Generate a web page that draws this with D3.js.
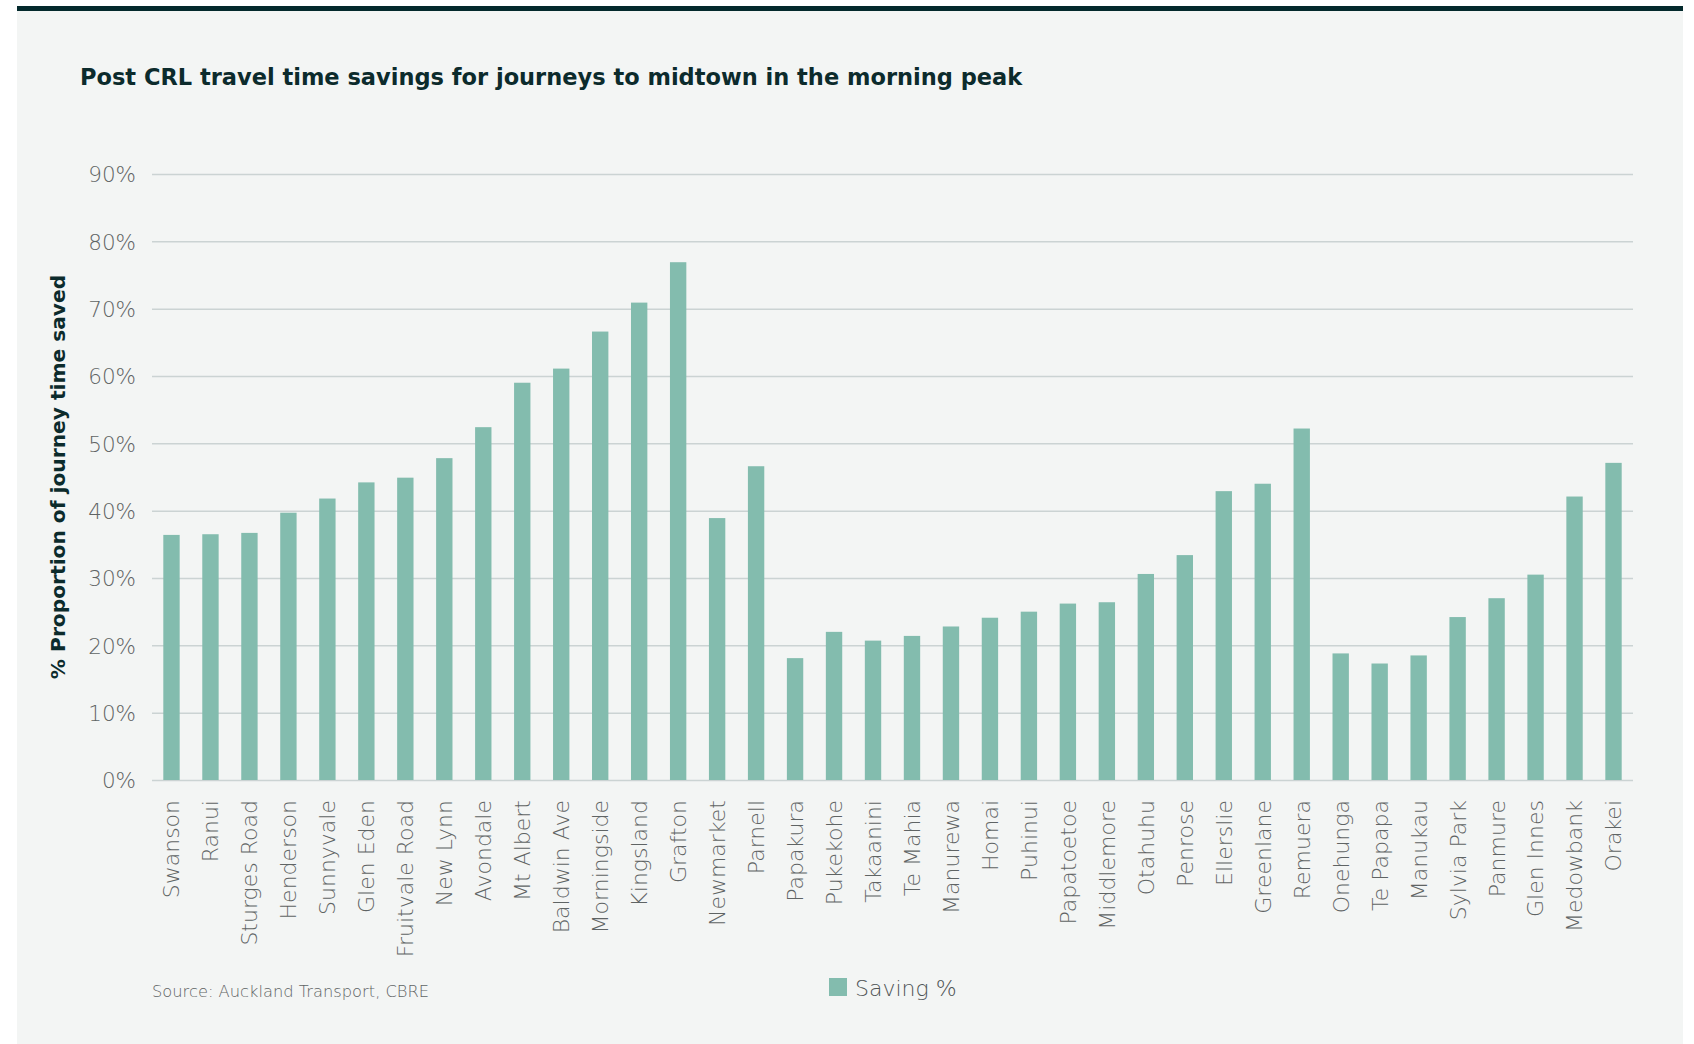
<!DOCTYPE html>
<meta charset="utf-8">
<style>
  body { margin: 0; background: #ffffff; }
  text { font-family: "DejaVu Sans", sans-serif; }
</style>

<!-- Load d3.js -->
<script src="https://d3js.org/d3.v7.min.js"></script>

<!-- Create a div where the graph will take place -->
<div id="my_dataviz"></div>

<script>

    // stations and the share of journey time saved (%)
    var stations = ["Swanson", "Ranui", "Sturges Road", "Henderson", "Sunnyvale", "Glen Eden",
      "Fruitvale Road", "New Lynn", "Avondale", "Mt Albert", "Baldwin Ave", "Morningside",
      "Kingsland", "Grafton", "Newmarket", "Parnell", "Papakura", "Pukekohe", "Takaanini",
      "Te Mahia", "Manurewa", "Homai", "Puhinui", "Papatoetoe", "Middlemore", "Otahuhu",
      "Penrose", "Ellerslie", "Greenlane", "Remuera", "Onehunga", "Te Papapa", "Manukau",
      "Sylvia Park", "Panmure", "Glen Innes", "Medowbank", "Orakei"]
    var savings = [36.4, 36.5, 36.7, 39.7, 41.8, 44.2,
      44.9, 47.8, 52.4, 59.0, 61.1, 66.6,
      70.9, 76.9, 38.9, 46.6, 18.1, 22.0, 20.7,
      21.4, 22.8, 24.1, 25.0, 26.2, 26.4, 30.6,
      33.4, 42.9, 44.0, 52.2, 18.8, 17.3, 18.5,
      24.2, 27.0, 30.5, 42.1, 47.1]
    var yTicks = [0, 10, 20, 30, 40, 50, 60, 70, 80, 90]

    var W = 1694, H = 1044
    var margin = {top: 174, right: 61, bottom: 264, left: 152},
      width = W - margin.left - margin.right,
      height = H - margin.top - margin.bottom;

    var svg0 = d3.select("#my_dataviz")
      .append("svg")
        .attr("width", W)
        .attr("height", H)

    // panel + dark strip on top
    svg0.append("rect")
      .attr("x", 17).attr("y", 6).attr("width", 1666).attr("height", H - 6)
      .style("fill", "#f3f5f4")
    svg0.append("rect")
      .attr("x", 17).attr("y", 6).attr("width", 1666).attr("height", 5)
      .style("fill", "#03292c")

    // title
    svg0.append("text")
      .attr("x", 80).attr("y", 85)
      .style("font-size", "22.5px")
      .style("font-weight", "bold")
      .style("fill", "#0c2b2c")
      .text("Post CRL travel time savings for journeys to midtown in the morning peak")

    var svg = svg0.append("g")
      .attr("transform", "translate(" + margin.left + "," + margin.top + ")");

    // Y scale and gridlines
    var y = d3.scaleLinear()
      .domain([0, 90])
      .range([height, 0]);

    var yAxis = svg.append("g")
      .call(d3.axisLeft(y).tickValues(yTicks).tickSize(-width).tickFormat(function(d) { return d + "%" }))
    yAxis.select(".domain").remove()
    yAxis.selectAll(".tick line")
      .style("stroke", "#cbd3d3")
      .style("stroke-width", 1.5)
    yAxis.selectAll(".tick text")
      .attr("x", -16)
      .attr("dy", "0.36em")
      .style("font-size", "21.5px")
      .style("font-family", "DejaVu Sans")
      .style("font-weight", "200")
      .style("fill", "#5f6464")

    // X scale
    var x = d3.scaleBand()
      .domain(stations)
      .range([0, width])
      .paddingInner(0.58)
      .paddingOuter(0.29);

    svg.selectAll(".bar")
      .data(stations)
      .enter()
      .append("rect")
        .attr("class", "bar")
        .attr("x", function(d) { return x(d) })
        .attr("y", function(d, i) { return y(savings[i]) })
        .attr("width", x.bandwidth())
        .attr("height", function(d, i) { return height - y(savings[i]) })
        .style("fill", "#83bcae")

    var xAxis = svg.append("g")
      .attr("transform", "translate(0," + height + ")")
      .call(d3.axisBottom(x).tickSize(0))
    xAxis.select(".domain").remove()
    xAxis.selectAll(".tick text")
      .attr("transform", "rotate(-90)")
      .attr("x", -20)
      .attr("y", 0)
      .attr("dy", "0.36em")
      .style("text-anchor", "end")
      .style("font-size", "22px")
      .style("font-family", "DejaVu Sans")
      .style("font-weight", "200")
      .style("fill", "#5f6464")

    // y axis title
    svg0.append("text")
      .attr("transform", "translate(65," + (margin.top + height / 2) + ") rotate(-90)")
      .style("text-anchor", "middle")
      .style("font-size", "20.2px")
      .style("font-weight", "bold")
      .style("fill", "#0c2b2c")
      .text("% Proportion of journey time saved")

    // source
    svg0.append("text")
      .attr("x", 152).attr("y", 997)
      .style("font-size", "16.3px")
      .style("font-weight", "200")
      .style("fill", "#5f6464")
      .text("Source: Auckland Transport, CBRE")

    // legend
    svg0.append("rect")
      .attr("x", 829).attr("y", 978).attr("width", 18).attr("height", 18)
      .style("fill", "#83bcae")
    svg0.append("text")
      .attr("x", 855).attr("y", 996)
      .style("font-size", "22px")
      .style("font-weight", "200")
      .style("fill", "#4f5454")
      .text("Saving %")

</script>
